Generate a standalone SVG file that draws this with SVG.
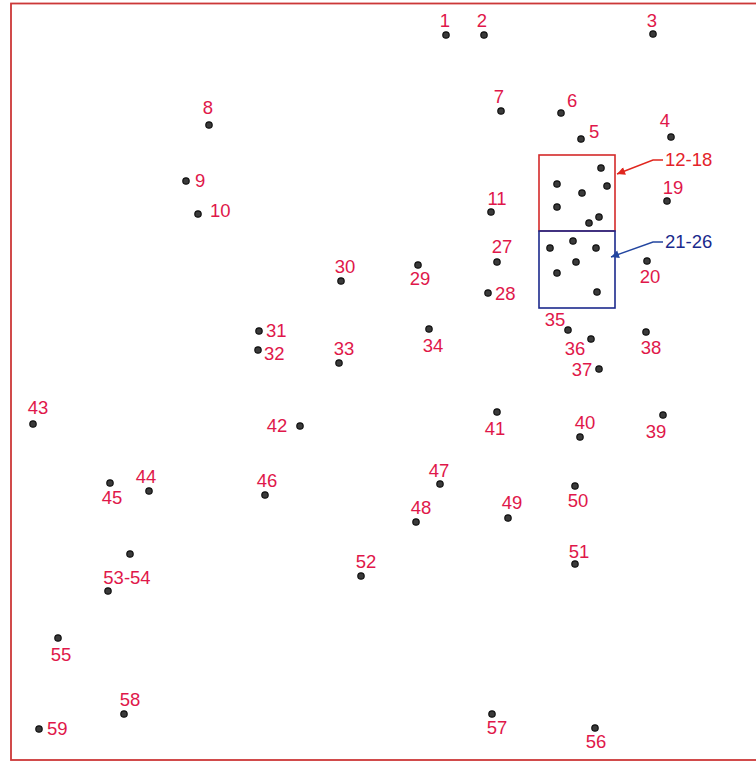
<svg xmlns="http://www.w3.org/2000/svg" width="756" height="762" viewBox="0 0 756 762">
<style>
.d{fill:#3a3a3a;stroke:#111;stroke-width:1.2}
.l{font-family:"Liberation Sans",Arial,sans-serif;font-size:18.5px;fill:#e0174a}
.m{text-anchor:middle}
.r{font-family:"Liberation Sans",Arial,sans-serif;font-size:18.5px;fill:#e4222a}
.b{font-family:"Liberation Sans",Arial,sans-serif;font-size:18.5px;fill:#1a2a8c}
</style>
<defs>
<marker id="ar" viewBox="0 0 10 10" refX="10" refY="5" markerWidth="12" markerHeight="8" markerUnits="userSpaceOnUse" orient="auto"><path d="M0,0 L10,5 L0,10 z" fill="#e0261e"/></marker>
<marker id="ab" viewBox="0 0 10 10" refX="10" refY="5" markerWidth="12" markerHeight="8" markerUnits="userSpaceOnUse" orient="auto"><path d="M0,0 L10,5 L0,10 z" fill="#2346a0"/></marker>
</defs>
<rect width="756" height="762" fill="#fff"/>
<rect x="11" y="3.5" width="760" height="756.5" fill="none" stroke="#cc3838" stroke-width="1.8"/>
<g id="box12-18"><rect x="539" y="155" width="76" height="76" fill="none" stroke="#d42a2a" stroke-width="1.6"/></g>
<g id="box21-26"><rect x="539" y="231" width="76" height="77" fill="none" stroke="#1c2a8c" stroke-width="1.6"/></g>
<g id="connectors">
<path d="M663,160 L653,160 L617,174" fill="none" stroke="#e0261e" stroke-width="1.4" marker-end="url(#ar)"/>
<path d="M663,242 L653,242 L611,257" fill="none" stroke="#2346a0" stroke-width="1.4" marker-end="url(#ab)"/>
</g>
<g id="n1"><circle class="d" cx="446" cy="35" r="3.2"/><text class="l m" x="445" y="27">1</text></g>
<g id="n2"><circle class="d" cx="484" cy="35" r="3.2"/><text class="l m" x="482" y="27">2</text></g>
<g id="n3"><circle class="d" cx="653" cy="34" r="3.2"/><text class="l m" x="652" y="27">3</text></g>
<g id="n4"><circle class="d" cx="671" cy="137" r="3.2"/><text class="l m" x="665" y="127">4</text></g>
<g id="n5"><circle class="d" cx="581" cy="139" r="3.2"/><text class="l" x="589" y="138">5</text></g>
<g id="n6"><circle class="d" cx="561" cy="113" r="3.2"/><text class="l" x="567" y="107">6</text></g>
<g id="n7"><circle class="d" cx="501" cy="111" r="3.2"/><text class="l m" x="499" y="103">7</text></g>
<g id="n8"><circle class="d" cx="209" cy="125" r="3.2"/><text class="l m" x="208" y="114">8</text></g>
<g id="n9"><circle class="d" cx="186" cy="181" r="3.2"/><text class="l" x="195" y="187">9</text></g>
<g id="n10"><circle class="d" cx="198" cy="214" r="3.2"/><text class="l" x="210" y="217">10</text></g>
<g id="n11"><circle class="d" cx="491" cy="212" r="3.2"/><text class="l m" x="497" y="205">11</text></g>
<g id="n12-18">
<circle class="d" cx="601" cy="168" r="3.2"/><circle class="d" cx="557" cy="184" r="3.2"/><circle class="d" cx="582" cy="193" r="3.2"/><circle class="d" cx="607" cy="186" r="3.2"/><circle class="d" cx="557" cy="207" r="3.2"/><circle class="d" cx="599" cy="217" r="3.2"/><circle class="d" cx="589" cy="223" r="3.2"/>
<text class="r" x="665" y="166">12-18</text></g>
<g id="n19"><circle class="d" cx="667" cy="201" r="3.2"/><text class="l m" x="673" y="194">19</text></g>
<g id="n20"><circle class="d" cx="647" cy="261" r="3.2"/><text class="l m" x="650" y="283">20</text></g>
<g id="n21-26">
<circle class="d" cx="550" cy="248" r="3.2"/><circle class="d" cx="573" cy="241" r="3.2"/><circle class="d" cx="596" cy="248" r="3.2"/><circle class="d" cx="576" cy="262" r="3.2"/><circle class="d" cx="557" cy="273" r="3.2"/><circle class="d" cx="597" cy="292" r="3.2"/>
<text class="b" x="665" y="248">21-26</text></g>
<g id="n27"><circle class="d" cx="497" cy="262" r="3.2"/><text class="l m" x="502" y="253">27</text></g>
<g id="n28"><circle class="d" cx="488" cy="293" r="3.2"/><text class="l" x="495" y="300">28</text></g>
<g id="n29"><circle class="d" cx="418" cy="265" r="3.2"/><text class="l m" x="420" y="285">29</text></g>
<g id="n30"><circle class="d" cx="341" cy="281" r="3.2"/><text class="l m" x="345" y="273">30</text></g>
<g id="n31"><circle class="d" cx="259" cy="331" r="3.2"/><text class="l" x="266" y="337">31</text></g>
<g id="n32"><circle class="d" cx="258" cy="350" r="3.2"/><text class="l" x="264" y="360">32</text></g>
<g id="n33"><circle class="d" cx="339" cy="363" r="3.2"/><text class="l m" x="344" y="355">33</text></g>
<g id="n34"><circle class="d" cx="429" cy="329" r="3.2"/><text class="l m" x="433" y="352">34</text></g>
<g id="n35"><circle class="d" cx="568" cy="330" r="3.2"/><text class="l m" x="555" y="326">35</text></g>
<g id="n36"><circle class="d" cx="591" cy="339" r="3.2"/><text class="l m" x="575" y="355">36</text></g>
<g id="n37"><circle class="d" cx="599" cy="369" r="3.2"/><text class="l m" x="582" y="376">37</text></g>
<g id="n38"><circle class="d" cx="646" cy="332" r="3.2"/><text class="l m" x="651" y="354">38</text></g>
<g id="n39"><circle class="d" cx="663" cy="415" r="3.2"/><text class="l m" x="656" y="438">39</text></g>
<g id="n40"><circle class="d" cx="580" cy="437" r="3.2"/><text class="l m" x="585" y="429">40</text></g>
<g id="n41"><circle class="d" cx="497" cy="412" r="3.2"/><text class="l m" x="495" y="435">41</text></g>
<g id="n42"><circle class="d" cx="300" cy="426" r="3.2"/><text class="l m" x="277" y="432">42</text></g>
<g id="n43"><circle class="d" cx="33" cy="424" r="3.2"/><text class="l m" x="38" y="414">43</text></g>
<g id="n44"><circle class="d" cx="149" cy="491" r="3.2"/><text class="l m" x="146" y="483">44</text></g>
<g id="n45"><circle class="d" cx="110" cy="483" r="3.2"/><text class="l m" x="112" y="504">45</text></g>
<g id="n46"><circle class="d" cx="265" cy="495" r="3.2"/><text class="l m" x="267" y="487">46</text></g>
<g id="n47"><circle class="d" cx="440" cy="484" r="3.2"/><text class="l m" x="439" y="477">47</text></g>
<g id="n48"><circle class="d" cx="416" cy="522" r="3.2"/><text class="l m" x="421" y="514">48</text></g>
<g id="n49"><circle class="d" cx="508" cy="518" r="3.2"/><text class="l m" x="512" y="509">49</text></g>
<g id="n50"><circle class="d" cx="575" cy="486" r="3.2"/><text class="l m" x="578" y="507">50</text></g>
<g id="n51"><circle class="d" cx="575" cy="564" r="3.2"/><text class="l m" x="579" y="558">51</text></g>
<g id="n52"><circle class="d" cx="361" cy="576" r="3.2"/><text class="l m" x="366" y="568">52</text></g>
<g id="n53-54"><circle class="d" cx="130" cy="554" r="3.2"/><circle class="d" cx="108" cy="591" r="3.2"/><text class="l m" x="127" y="584">53-54</text></g>
<g id="n55"><circle class="d" cx="58" cy="638" r="3.2"/><text class="l m" x="61" y="661">55</text></g>
<g id="n56"><circle class="d" cx="595" cy="728" r="3.2"/><text class="l m" x="596" y="748">56</text></g>
<g id="n57"><circle class="d" cx="492" cy="714" r="3.2"/><text class="l m" x="497" y="734">57</text></g>
<g id="n58"><circle class="d" cx="124" cy="714" r="3.2"/><text class="l m" x="130" y="706">58</text></g>
<g id="n59"><circle class="d" cx="39" cy="729" r="3.2"/><text class="l" x="47" y="735">59</text></g>
</svg>
